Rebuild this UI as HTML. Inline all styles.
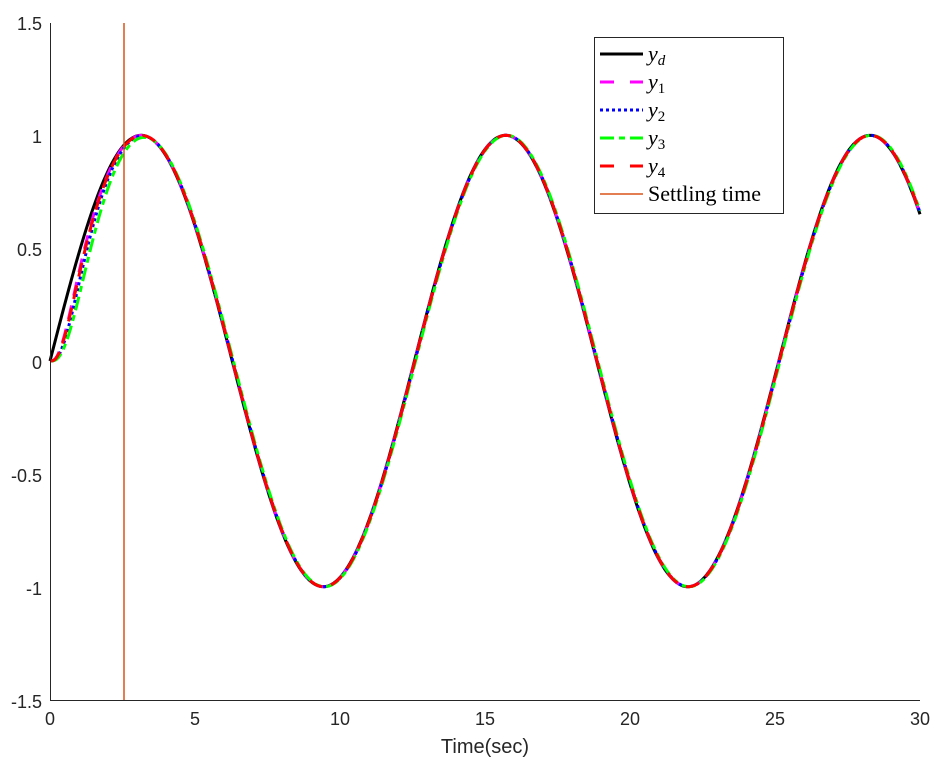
<!DOCTYPE html>
<html><head><meta charset="utf-8"><style>body{margin:0;background:#fff}svg{display:block}.s{font-family:"Liberation Sans",sans-serif}.r{font-family:"Liberation Serif",serif}</style></head>
<body>
<svg id="s" width="937" height="774" xmlns="http://www.w3.org/2000/svg">
<rect width="937" height="774" fill="#fff"/>
<g id="plot"></g>
<g stroke="#262626" stroke-width="1" fill="none">
<path d="M50.5,23 V700.5 H920"/>
</g>
<g id="ticks" stroke="#262626" stroke-width="1"></g>
<g class="s" font-size="18" fill="#262626" text-anchor="end">
<text x="42" y="30">1.5</text><text x="42" y="143">1</text><text x="42" y="256">0.5</text><text x="42" y="369">0</text><text x="42" y="482">-0.5</text><text x="42" y="595">-1</text><text x="42" y="708">-1.5</text>
</g>
<g class="s" font-size="18" fill="#262626" text-anchor="middle">
<text x="50" y="725">0</text><text x="195" y="725">5</text><text x="340" y="725">10</text><text x="485" y="725">15</text><text x="630" y="725">20</text><text x="775" y="725">25</text><text x="920" y="725">30</text>
<text x="485" y="753" font-size="20">Time(sec)</text>
</g>
<g>
<rect x="594.5" y="37.5" width="189" height="176" fill="#fff" stroke="#262626"/>
<g stroke-width="3">
<line x1="600" y1="54" x2="643" y2="54" stroke="#000"/>
<line x1="600" y1="82" x2="643" y2="82" stroke="#f0f" stroke-dasharray="14,16"/>
<line x1="600" y1="110" x2="643" y2="110" stroke="#00f" stroke-dasharray="3,3"/>
<line x1="600" y1="138" x2="643" y2="138" stroke="#0f0" stroke-dasharray="14,5,6,5"/>
<line x1="600" y1="166" x2="643" y2="166" stroke="#f00" stroke-dasharray="14,16"/>
<line x1="600" y1="194" x2="643" y2="194" stroke="#d95319" stroke-width="1.5"/>
</g>
<g class="r" font-size="22" fill="#000">
<text x="648" y="61" font-style="italic">y<tspan font-size="15" dy="4">d</tspan></text>
<text x="648" y="89" font-style="italic">y<tspan font-size="15" dy="4" font-style="normal">1</tspan></text>
<text x="648" y="117" font-style="italic">y<tspan font-size="15" dy="4" font-style="normal">2</tspan></text>
<text x="648" y="145" font-style="italic">y<tspan font-size="15" dy="4" font-style="normal">3</tspan></text>
<text x="648" y="173" font-style="italic">y<tspan font-size="15" dy="4" font-style="normal">4</tspan></text>
<text x="648" y="201">Settling time</text>
</g>
</g>
<script>
const X=t=>50+t*29, Y=v=>361-v*225.7;
function path(f){let d="";for(let t=0;t<=30.0001;t+=0.05){d+=(d?"L":"M")+X(t).toFixed(2)+","+Y(f(t)).toFixed(2);}return d;}
const g=document.getElementById("plot");
function add(f,col,dash,w){const p=document.createElementNS("http://www.w3.org/2000/svg","path");p.setAttribute("d",path(f));p.setAttribute("stroke",col);p.setAttribute("stroke-width",w||3);p.setAttribute("fill","none");if(dash)p.setAttribute("stroke-dasharray",dash);g.appendChild(p);}
const fol=(k,lag)=>t=>Math.sin((t-lag)/2)*(1-(1+k*t)*Math.exp(-k*t));
add(t=>Math.sin(t/2),"#000",null,3);
add(fol(3.2,0.01),"#f0f","14,10");
add(fol(2.6,0.02),"#00f","3,3");
add(fol(2.1,0.04),"#0f0","14,5,6,5");
add(fol(3.0,0.015),"#f00","14,9");
const l=document.createElementNS("http://www.w3.org/2000/svg","line");
l.setAttribute("x1",124);l.setAttribute("x2",124);l.setAttribute("y1",23);l.setAttribute("y2",700);l.setAttribute("stroke","#d95319");l.setAttribute("stroke-width",1.5);g.appendChild(l);
const tk=document.getElementById("ticks");let s="";
for(let i=0;i<=6;i++){const x=50+i*145;s+=`<line x1="${x}" y1="700" x2="${x}" y2="692"/>`;}
for(let i=0;i<=6;i++){const y=700-i*112.85;s+=`<line x1="50" y1="${y}" x2="58" y2="${y}"/>`;}
tk.innerHTML=s;
</script>
</svg>
</body></html>
